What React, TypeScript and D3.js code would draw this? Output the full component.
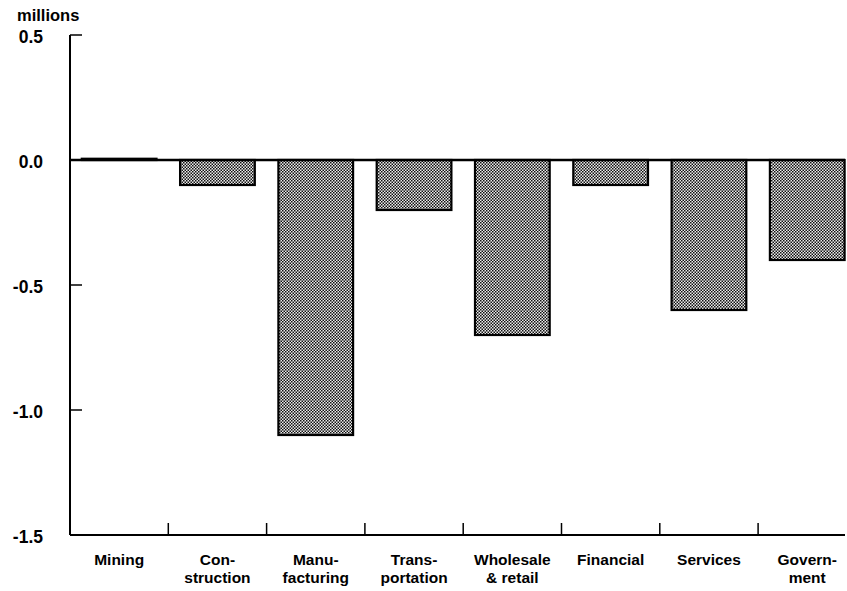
import React from "react";
import * as d3 from "d3";

const categories = [
  ["Mining"],
  ["Con-", "struction"],
  ["Manu-", "facturing"],
  ["Trans-", "portation"],
  ["Wholesale", "& retail"],
  ["Financial"],
  ["Services"],
  ["Govern-", "ment"],
];
const values = [0.005, -0.1, -1.1, -0.2, -0.7, -0.1, -0.6, -0.4];
const yTicks = [0.5, 0.0, -0.5, -1.0, -1.5];

export default function App() {
  const W = 847, H = 591;
  const x0 = 70, bandW = 98.3;
  const x = d3.scaleBand<number>()
    .domain(d3.range(categories.length))
    .range([x0, x0 + bandW * categories.length])
    .paddingInner(0.24)
    .paddingOuter(0.12);
  const y = d3.scaleLinear().domain([0.5, -1.5]).range([35, 535]);
  const font = "'Liberation Sans', Arial, Helvetica, sans-serif";
  const xEnd = 845;
  return (
    <svg width={W} height={H} style={{ position: "absolute", left: 0, top: 0 }}>
      <defs>
        <pattern id="dots" width="3" height="3" patternUnits="userSpaceOnUse">
          <rect width="3" height="3" fill="#ececec" />
          <rect x="0" y="0" width="1.5" height="1.5" fill="#111" />
          <rect x="1.5" y="1.5" width="1.5" height="1.5" fill="#111" />
        </pattern>
      </defs>
      <rect width={W} height={H} fill="#fff" />
      {values.map((v, i) => {
        const top = y(Math.max(0, v));
        const bot = y(Math.min(0, v));
        return (
          <rect key={i} x={x(i)} y={top} width={x.bandwidth()} height={Math.max(0.5, bot - top)}
            fill="url(#dots)" stroke="#000" strokeWidth={2.2} />
        );
      })}
      {/* y axis */}
      <line x1={x0} x2={x0} y1={y(0.5)} y2={y(-1.5)} stroke="#000" strokeWidth={2} />
      {yTicks.filter(t => t !== 0 && t !== -1.5).map(t => (
        <line key={t} x1={x0} x2={x0 + 12} y1={y(t)} y2={y(t)} stroke="#000" strokeWidth={1.5} />
      ))}
      <line x1={x0} x2={xEnd} y1={y(0)} y2={y(0)} stroke="#000" strokeWidth={2.5} />
      <line x1={x0} x2={xEnd} y1={y(-1.5)} y2={y(-1.5)} stroke="#000" strokeWidth={2} />
      {d3.range(1, categories.length).map(i => {
        const xt = x0 + bandW * i;
        return <line key={i} x1={xt} x2={xt} y1={y(-1.5)} y2={y(-1.5) - 12} stroke="#000" strokeWidth={1.5} />;
      })}
      {yTicks.map(t => (
        <text key={t} x={43} y={y(t) + 7.5} textAnchor="end" fontFamily={font} fontWeight="bold" fontSize={17.5}>
          {d3.format(".1f")(t).replace("−", "-")}
        </text>
      ))}
      <text x={17} y={21} fontFamily={font} fontWeight="bold" fontSize={16.5}>millions</text>
      {categories.map((lines, i) =>
        lines.map((l, j) => (
          <text key={i + "-" + j} x={x(i)! + x.bandwidth() / 2} y={565 + j * 18} textAnchor="middle"
            fontFamily={font} fontWeight="bold" fontSize={15.5}>{l}</text>
        ))
      )}
    </svg>
  );
}
